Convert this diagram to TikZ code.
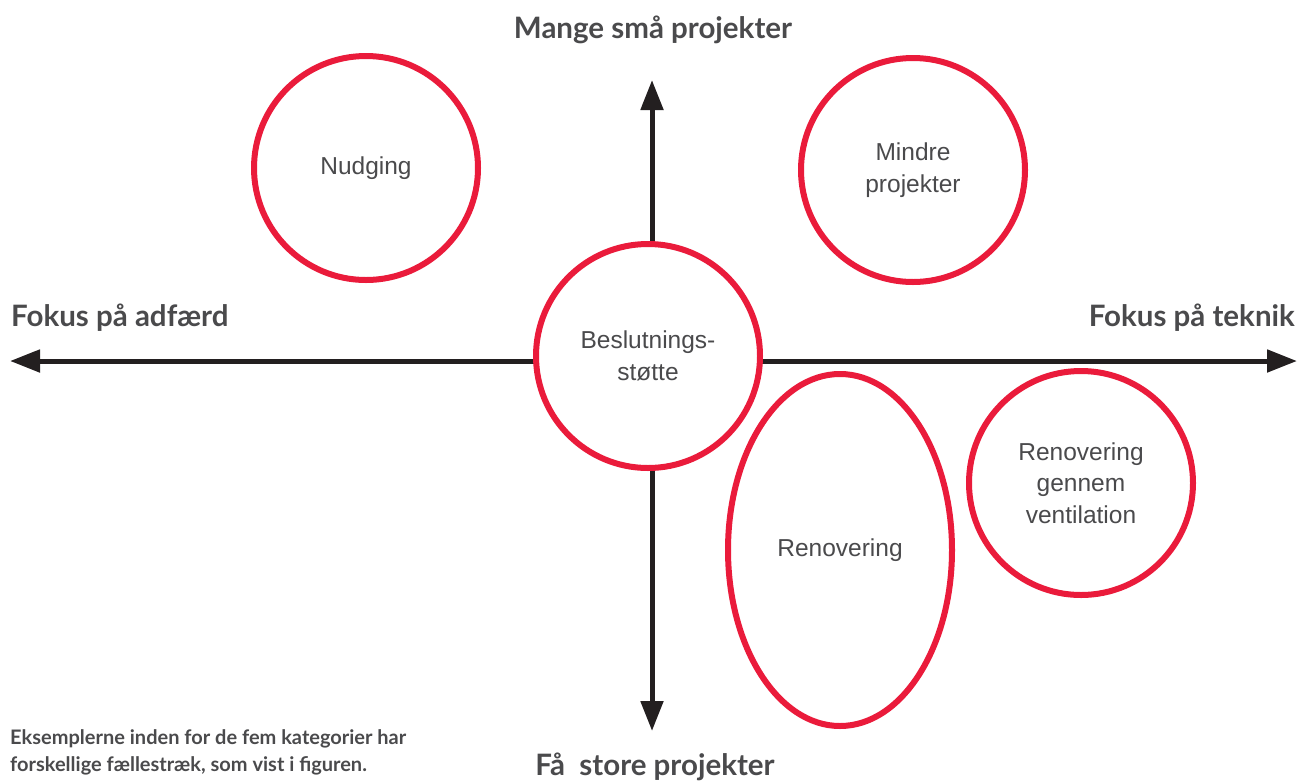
\documentclass[tikz,border=0pt]{standalone}
\usepackage{fontspec}
\setmainfont{Liberation Sans}
\newfontfamily\headfont{Lato}
\usepackage{tikz}
\usetikzlibrary{arrows.meta,shapes.geometric}
\definecolor{bubblered}{HTML}{EA1B3B}
\definecolor{textgray}{HTML}{4A4A4C}
\definecolor{axisblack}{HTML}{231F20}

\begin{document}
\begin{tikzpicture}
[x=1pt, y=-1pt,
bubble/.style={circle, draw=bubblered, fill=white, line width=6pt, inner sep=0pt, minimum size=224pt, align=center, text=textgray, font=\fontsize{24.5}{31.5}\selectfont},
oval/.style={bubble, ellipse, minimum width=224pt, minimum height=352pt},
axis/.style={axisblack, line width=5pt, -{Triangle[length=30pt, width=22pt]}},
axislabel/.style={text=textgray, font=\headfont\bfseries\fontsize{29.5}{34}\selectfont, inner sep=0pt},
note/.style={text=textgray, font=\headfont\bfseries\fontsize{20}{27}\selectfont, align=left, inner sep=0pt},
]
\useasboundingbox (0,0) rectangle (1301,780);

\coordinate (o) at (652,361);
\coordinate (west) at (10,361);
\coordinate (east) at (1297,361);
\coordinate (north) at (652,80);
\coordinate (south) at (652,731);

\draw[axis] (o) -- (west);
\draw[axis] (o) -- (east);
\draw[axis] (o) -- (north);
\draw[axis] (o) -- (south);

\node[bubble] (beslut) at (648,356) {Beslutnings-\\støtte};
\node[bubble] (nudge) at (366,168) {Nudging};
\node[bubble] (mindre) at (913,170) {Mindre\\projekter};
\node[oval] (renov) at (840,550) {Renovering};
\node[bubble] (vent) at (1081,483) {Renovering\\gennem\\ventilation};

\node[axislabel, anchor=base] (many) at (653,38) {Mange små projekter};
\node[axislabel, anchor=base] (few) at (655,775) {Få\ \ store projekter};
\node[axislabel, anchor=base west] (adf) at (11,326) {Fokus på adfærd};
\node[axislabel, anchor=base east] (tek) at (1295,326) {Fokus på teknik};

\node[note, anchor=base west] (noteA) at (10,744) {Eksemplerne inden for de fem kategorier har};
\node[note, anchor=base west] (noteB) at (10,771) {forskellige fællestræk, som vist i figuren.};
\end{tikzpicture}
\end{document}
